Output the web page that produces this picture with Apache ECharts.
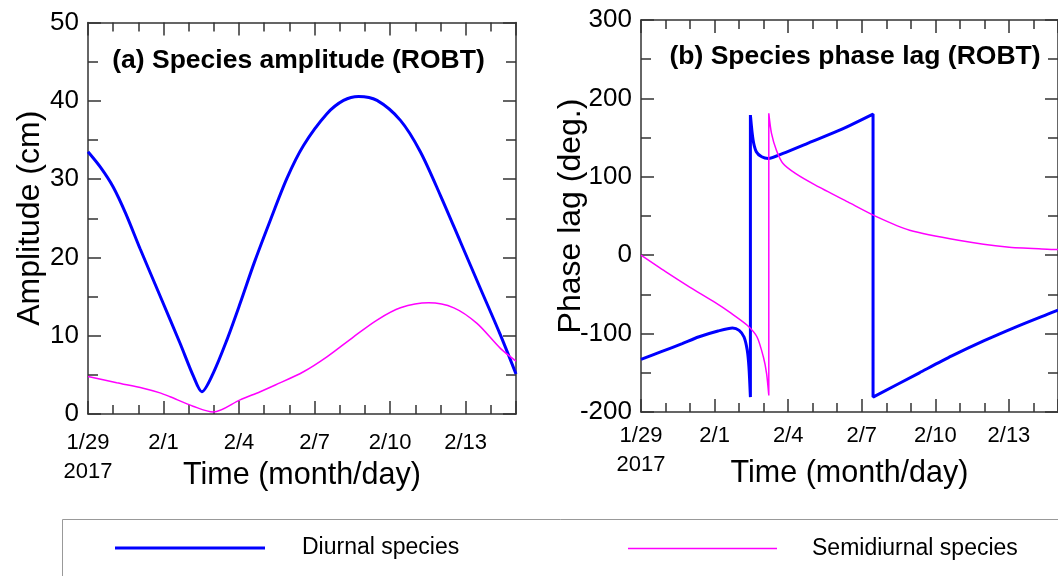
<!DOCTYPE html>
<html>
<head>
<meta charset="utf-8">
<script src="https://cdn.jsdelivr.net/npm/echarts@6/dist/echarts.min.js"></script>
<style>
html,body{margin:0;padding:0;background:#fff;}
#chart{width:1058px;height:576px;}
</style>
</head>
<body>
<div id="chart"></div>
<script>
// ---- Data (x in days since 1/29/2017 00:00) ----
const xTickDays = [0, 3, 6, 9, 12, 15];
const xTickLabels = ['1/29', '2/1', '2/4', '2/7', '2/10', '2/13'];
const yearLabel = '2017';

const ampDiurnalDays   = [0, 0.5, 1.0, 1.5, 2.07, 2.86, 3.66, 4.19, 4.52, 4.97, 5.51, 6.04, 6.6, 7.2, 7.9, 8.56, 9.49, 10.15, 10.75, 11.48, 12.41, 13.2, 14.0, 14.79, 15.59, 16.38, 17];
const ampDiurnalValues = [33.5, 31.5, 29.0, 25.6, 21.1, 15.1, 9.0, 4.8, 2.85, 5.2, 9.4, 14.1, 19.3, 24.4, 30.1, 34.3, 38.35, 40.05, 40.56, 40.05, 37.5, 33.5, 27.9, 22.0, 16.0, 10.1, 5.1];

const ampSemiDays   = [0, 1.14, 2.19, 2.86, 3.26, 4.17, 4.98, 6.04, 6.84, 7.44, 8.56, 9.49, 10.55, 11.48, 12.41, 13.53, 14.53, 15.45, 16.38, 17];
const ampSemiValues = [4.8, 4.0, 3.3, 2.7, 2.2, 1.0, 0.25, 1.8, 2.85, 3.7, 5.4, 7.3, 9.86, 12.0, 13.56, 14.2, 13.56, 11.57, 8.38, 6.76];

const phaseDiurnalDays   = [0, 0.8, 1.68, 2.34, 3.14, 3.73, 4.0, 4.2, 4.33, 4.40, 4.46, 4.46, 4.57, 4.70, 4.92, 5.19, 5.79, 6.84, 8.17, 9.46, 9.46, 11.35, 12.67, 13.99, 15.32, 16.56, 17];
const phaseDiurnalValues = [-133, -123.4, -112.8, -104.3, -96.7, -92.8, -95.8, -104.3, -121, -142.6, -181, 178.8, 146.9, 132, 125.6, 123.5, 129.9, 143.4, 160.5, 180, -181, -150, -128.5, -109, -91, -75.4, -70];

const phaseSemiDays   = [0, 1.0, 2.0, 3.0, 3.67, 4.33, 4.73, 4.99, 5.12, 5.21, 5.21, 5.32, 5.52, 5.79, 6.31, 7.11, 8.43, 9.62, 10.95, 12.94, 14.92, 16.56, 17];
const phaseSemiValues = [0, -21, -41, -60, -74, -89.4, -104.3, -129.9, -151, -178.8, 181, 155.4, 134, 117, 104, 89.4, 68, 48.9, 31.9, 19.2, 10.6, 7.7, 7.3];

const seriesNames = ['Diurnal species', 'Semidiurnal species'];
const panelTitles = ['(a) Species amplitude (ROBT)', '(b) Species phase lag (ROBT)'];
const yNames = ['Amplitude (cm)', 'Phase lag (deg.)'];
const xName = 'Time (month/day)';

// ---- Helpers ----
const FONT = '"Liberation Sans", Arial, sans-serif';
const AX = '#333';
const zip = (xs, ys) => xs.map((x, i) => [x, ys[i]]);

function xAxis(gridIndex, position, showLabel, labelMargin) {
  return {
    type: 'value', gridIndex, position, min: 0, max: 17, interval: 3,
    axisLine: { show: true, onZero: false, lineStyle: { color: AX, width: 1.5 } },
    axisTick: { show: true, inside: true, length: 13, lineStyle: { color: AX, width: 1.5 } },
    minorTick: { show: true, splitNumber: 3, length: 9, lineStyle: { color: AX, width: 1.5 } },
    splitLine: { show: false }, minorSplitLine: { show: false },
    axisLabel: showLabel ? {
      show: true, margin: labelMargin, color: '#000', fontSize: 22, fontFamily: FONT, lineHeight: 29,
      showMaxLabel: false,
      formatter: v => {
        const i = xTickDays.indexOf(v);
        if (i < 0) return '';
        return i === 0 ? xTickLabels[0] + '\n' + yearLabel : xTickLabels[i];
      }
    } : { show: false },
    name: showLabel ? xName : '',
    nameLocation: 'middle', nameGap: 46, nameMoveOverlap: false,
    nameTextStyle: { color: '#000', fontSize: 30.5, fontFamily: FONT }
  };
}
function yAxis(gridIndex, position, min, max, interval, name, nameGap) {
  const showLabel = position === 'left';
  return {
    type: 'value', gridIndex, position, min, max, interval,
    axisLine: { show: true, onZero: false, lineStyle: { color: AX, width: 1.5 } },
    axisTick: { show: true, inside: true, length: 13, lineStyle: { color: AX, width: 1.5 } },
    minorTick: { show: true, splitNumber: 2, length: 10, lineStyle: { color: AX, width: 1.5 } },
    splitLine: { show: false }, minorSplitLine: { show: false },
    axisLabel: showLabel ? { show: true, margin: 9, color: '#000', fontSize: 26, fontFamily: FONT } : { show: false },
    name: showLabel ? name : '',
    nameLocation: 'middle', nameGap, nameMoveOverlap: false,
    nameTextStyle: { color: '#000', fontSize: 32, fontFamily: FONT }
  };
}
function line(name, xi, yi, data, color, width, smooth) {
  return {
    type: 'line', name, xAxisIndex: xi, yAxisIndex: yi, data,
    symbol: 'none', smooth, clip: true,
    lineStyle: { color, width }, itemStyle: { color },
    emphasis: { disabled: true }, animation: false
  };
}

const chart = echarts.init(document.getElementById('chart'), null, { renderer: 'canvas' });
chart.setOption({
  animation: false,
  backgroundColor: '#fff',
  grid: [
    { left: 88, top: 22.5, width: 428, height: 391.5 },
    { left: 641, top: 20, width: 428, height: 392 }
  ],
  xAxis: [
    xAxis(0, 'bottom', true, 14), xAxis(0, 'top', false, 0),
    xAxis(1, 'bottom', true, 9.5), xAxis(1, 'top', false, 0)
  ],
  yAxis: [
    yAxis(0, 'left', 0, 50, 10, yNames[0], 42), yAxis(0, 'right', 0, 50, 10, '', 0),
    yAxis(1, 'left', -200, 300, 100, yNames[1], 54), yAxis(1, 'right', -200, 300, 100, '', 0)
  ],
  legend: [
    { data: [seriesNames[0]], left: 115, top: 536.5, padding: 0, itemWidth: 150, itemHeight: 3, icon: 'rect',
      selectedMode: false, textStyle: { color: '#000', fontSize: 23, fontFamily: FONT, padding: [0, 0, 0, 32] } },
    { data: [seriesNames[1]], left: 628, top: 537, padding: 0, itemWidth: 149, itemHeight: 1.5, icon: 'rect',
      selectedMode: false, textStyle: { color: '#000', fontSize: 23, fontFamily: FONT, padding: [0, 0, 0, 30] } }
  ],
  graphic: [
    { type: 'rect', shape: { x: 62.5, y: 519.5, width: 1100, height: 100 },
      style: { fill: 'none', stroke: '#999', lineWidth: 1 }, silent: true },
    { type: 'text', x: 298.5, y: 61, style: { text: panelTitles[0], align: 'center', verticalAlign: 'middle',
      font: 'bold 26.5px ' + FONT, fill: '#000' }, silent: true },
    { type: 'text', x: 855, y: 57, style: { text: panelTitles[1], align: 'center', verticalAlign: 'middle',
      font: 'bold 26.5px ' + FONT, fill: '#000' }, silent: true }
  ],
  series: [
    line(seriesNames[0], 0, 0, zip(ampDiurnalDays, ampDiurnalValues), '#0000FF', 3, 0.3),
    line(seriesNames[1], 0, 0, zip(ampSemiDays, ampSemiValues), '#FF00FF', 1.5, 0.3),
    line(seriesNames[0], 2, 2, zip(phaseDiurnalDays, phaseDiurnalValues), '#0000FF', 3, 0.25),
    line(seriesNames[1], 2, 2, zip(phaseSemiDays, phaseSemiValues), '#FF00FF', 1.5, 0.25)
  ]
});
</script>
</body>
</html>
